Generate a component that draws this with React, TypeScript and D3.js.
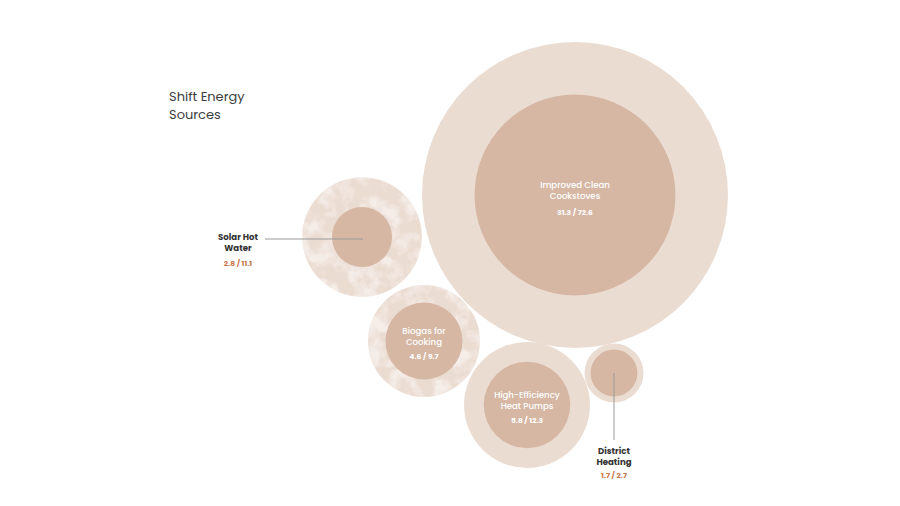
import React from "react";
import * as d3 from "d3";

const categories = ["Improved Clean Cookstoves", "Solar Hot Water", "Biogas for Cooking", "High-Efficiency Heat Pumps", "District Heating"];
const labelLines = [["Improved Clean", "Cookstoves"], ["Solar Hot", "Water"], ["Biogas for", "Cooking"], ["High-Efficiency", "Heat Pumps"], ["District", "Heating"]];
const currentValues = [31.3, 2.8, 4.6, 5.8, 1.7];
const potentialValues = [72.6, 11.1, 9.7, 12.3, 2.7];
const title = ["Shift Energy", "Sources"];

// layout (packing positions) — not data
const centers: [number, number][] = [[575, 195], [362, 237], [424, 341], [527, 405], [614, 373]];
const labelMode = ["inside", "left", "inside", "inside", "below"];
const textured = [false, true, true, false, false];

const W = 900, H = 506;
const FONT = "Poppins, Inter, 'Open Sans', sans-serif";

export default function App() {
  const r = d3.scaleSqrt().domain([0, d3.max(potentialValues)!]).range([0, 153]);
  const fmt = (a: number, b: number) => `${a} / ${b}`;
  return (
    <svg width={W} height={H} style={{ position: "absolute", left: 0, top: 0, background: "#fff" }}>
      <defs>
        <filter id="wash" x="0" y="0" width="100%" height="100%">
          <feTurbulence type="fractalNoise" baseFrequency="0.06" numOctaves={4} seed={3} result="n" />
          <feColorMatrix in="n" type="matrix" values="0 0 0 0 1  0 0 0 0 1  0 0 0 0 1  0 0 0 -3.5 2.0" result="w" />
          <feComposite in="w" in2="SourceAlpha" operator="in" />
        </filter>
      </defs>
      <g fontFamily={FONT}>
        {title.map((t, i) => (
          <text key={i} x={169} y={101 + i * 18} fontSize={13} fill="#3d3d3d" fontWeight={400}>{t}</text>
        ))}
      </g>
      {categories.map((c, i) => {
        const [cx, cy] = centers[i];
        const ro = r(potentialValues[i]);
        const ri = r(currentValues[i]);
        return (
          <g key={c}>
            <circle cx={cx} cy={cy} r={ro} fill="#ebdcd2" />
            {textured[i] && <circle cx={cx} cy={cy} r={ro} fill="#fff" filter="url(#wash)" opacity={0.5} />}
            <circle cx={cx} cy={cy} r={ri} fill="#d6b7a3" />
          </g>
        );
      })}
      <g fontFamily={FONT} textAnchor="middle">
        {categories.map((c, i) => {
          const [cx, cy] = centers[i];
          const lines = labelLines[i];
          const val = fmt(currentValues[i], potentialValues[i]);
          if (labelMode[i] === "inside") {
            const big = i === 0;
            return (
              <g key={c}>
                {lines.map((l, j) => (
                  <text key={j} x={cx} y={cy - 9 + j * 11} dominantBaseline="middle" fontSize={8.6} fontWeight={500} fill="#fff">{l}</text>
                ))}
                <text x={cx} y={cy + (big ? 18 : 16)} dominantBaseline="middle" fontSize={7.5} fontWeight={700} fill="#fff">{val}</text>
              </g>
            );
          }
          if (labelMode[i] === "left") {
            const lx = 238;
            return (
              <g key={c}>
                <line x1={265} y1={cy + 2} x2={cx + 1} y2={cy + 2} stroke="#9a9a9a" strokeWidth={1} />
                {lines.map((l, j) => (
                  <text key={j} x={lx} y={cy + 1 + j * 10.5} dominantBaseline="middle" fontSize={8.6} fontWeight={700} fill="#333">{l}</text>
                ))}
                <text x={lx} y={cy + 27} dominantBaseline="middle" fontSize={7.5} fontWeight={700} fill="#c7784a">{val}</text>
              </g>
            );
          }
          return (
            <g key={c}>
              <line x1={cx} y1={cy} x2={cx} y2={440} stroke="#9a9a9a" strokeWidth={1} />
              {lines.map((l, j) => (
                <text key={j} x={cx} y={452 + j * 11} dominantBaseline="middle" fontSize={8.6} fontWeight={700} fill="#333">{l}</text>
              ))}
              <text x={cx} y={476} dominantBaseline="middle" fontSize={7.5} fontWeight={700} fill="#c7784a">{val}</text>
            </g>
          );
        })}
      </g>
    </svg>
  );
}
